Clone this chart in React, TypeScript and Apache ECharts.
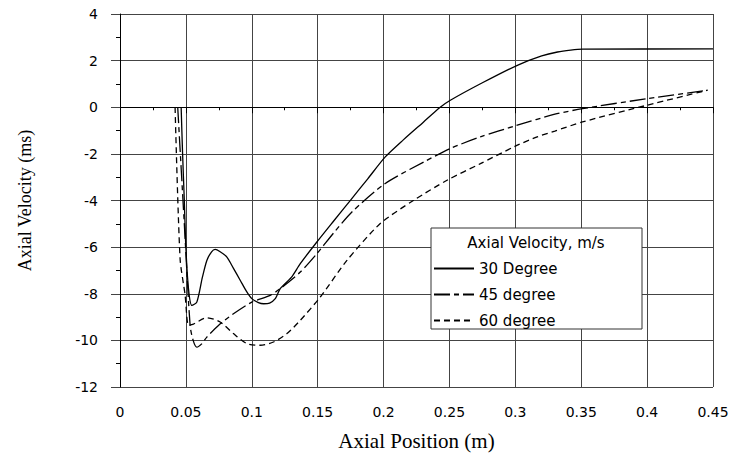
import React, { useEffect, useRef } from "react";
import * as echarts from "echarts";

const seriesNames = ["30 Degree", "45 degree", "60 degree"];
const legendTitle = "Axial Velocity, m/s";
const xAxisTitle = "Axial Position (m)";
const yAxisTitle = "Axial Velocity (ms)";

const x30 = [0.0464, 0.0475, 0.0488, 0.05, 0.052, 0.0545, 0.0583, 0.0625, 0.0659, 0.0695, 0.0722, 0.076, 0.081, 0.086, 0.0912, 0.096, 0.1, 0.105, 0.109, 0.1135, 0.118, 0.1216, 0.13, 0.1368, 0.1494, 0.162, 0.175, 0.188, 0.2013, 0.215, 0.23, 0.243, 0.2507, 0.275, 0.3015, 0.32, 0.332, 0.342, 0.351, 0.45];
const y30 = [0, -2, -4, -6.05, -7.8, -8.5, -8.36, -7.3, -6.57, -6.2, -6.1, -6.2, -6.42, -6.9, -7.42, -7.9, -8.21, -8.38, -8.43, -8.4, -8.2, -7.78, -7.3, -6.71, -5.78, -4.89, -3.98, -3.07, -2.13, -1.4, -0.65, 0, 0.3, 1.05, 1.8, 2.2, 2.37, 2.45, 2.49, 2.5];

const x45 = [0.0438, 0.0488, 0.0532, 0.0555, 0.0583, 0.062, 0.0659, 0.0747, 0.0861, 0.1, 0.114, 0.1216, 0.1368, 0.1494, 0.162, 0.176, 0.2013, 0.2305, 0.2507, 0.2735, 0.3015, 0.33, 0.351, 0.4002, 0.4458];
const y45 = [0, -5, -9.36, -10.0, -10.29, -10.15, -9.86, -9.36, -8.86, -8.36, -8.07, -7.78, -7.07, -6.28, -5.4, -4.49, -3.27, -2.35, -1.77, -1.27, -0.77, -0.3, -0.06, 0.37, 0.73];

const x60 = [0.0418, 0.0456, 0.0494, 0.052, 0.0557, 0.0659, 0.076, 0.0861, 0.0963, 0.1064, 0.1165, 0.1267, 0.1368, 0.152, 0.1722, 0.1975, 0.2229, 0.2482, 0.2735, 0.3, 0.3166, 0.33, 0.351, 0.4002, 0.4458];
const y60 = [0, -6.5, -8.05, -9.36, -9.3, -9.03, -9.21, -9.71, -10.14, -10.21, -10.07, -9.71, -9.14, -8.14, -6.57, -4.99, -3.99, -3.13, -2.42, -1.67, -1.27, -1.02, -0.63, 0.09, 0.73];

const zip = (xs: number[], ys: number[]) => xs.map((x, i) => [x, ys[i]]);

export default function App() {
  const ref = useRef<HTMLDivElement>(null);
  useEffect(() => {
    document.body.style.margin = "0";
    const chart = echarts.init(ref.current!, undefined, { renderer: "svg" });
    const tickFont = { fontFamily: "DejaVu Sans", fontSize: 14, color: "#000" };
    const lineCommon = {
      type: "line" as const,
      symbol: "none",
      smooth: 0.25,
      z: 5,
    };
    chart.setOption({
      animation: false,
      backgroundColor: "#fff",
      grid: { left: 120, right: 20, top: 14, bottom: 75 },
      xAxis: {
        type: "value",
        min: 0,
        max: 0.45,
        interval: 0.05,
        name: xAxisTitle,
        nameLocation: "middle",
        nameGap: 43,
        nameTextStyle: { fontFamily: "Liberation Serif", fontSize: 21, color: "#000" },
        axisLine: { show: true, lineStyle: { color: "#000", width: 1 } },
        axisTick: { show: true, length: 6, lineStyle: { color: "#000" } },
        minorTick: { show: true, splitNumber: 2, length: 3, lineStyle: { color: "#000" } },
        axisLabel: { ...tickFont, margin: 18 },
        splitLine: { show: true, lineStyle: { color: "#444", width: 1 } },
      },
      yAxis: {
        type: "value",
        min: -12,
        max: 4,
        interval: 2,
        name: yAxisTitle,
        nameLocation: "middle",
        nameGap: 86,
        nameTextStyle: { fontFamily: "Liberation Serif", fontSize: 18, color: "#000" },
        axisLine: { show: true, onZero: false, lineStyle: { color: "#000", width: 1 } },
        axisTick: { show: true, length: 9, lineStyle: { color: "#444" } },
        minorTick: { show: true, splitNumber: 2, length: 4, lineStyle: { color: "#000" } },
        axisLabel: { ...tickFont, margin: 22 },
        splitLine: { show: true, lineStyle: { color: "#444", width: 1 } },
      },
      legend: {
        orient: "vertical",
        left: 433,
        top: 261,
        padding: 0,
        itemWidth: 40,
        itemHeight: 14,
        itemGap: 11,
        itemStyle: { color: "rgba(0,0,0,0)", borderWidth: 0, opacity: 0 },
        textStyle: { fontFamily: "DejaVu Sans", fontSize: 15, color: "#000" },
        data: seriesNames,
        z: 10,
      },
      graphic: [
        {
          type: "rect",
          shape: { x: 431, y: 228, width: 211, height: 101 },
          style: { fill: "#fff", stroke: "#333", lineWidth: 1 },
          z: 3,
        },
        {
          type: "text",
          x: 536,
          y: 243,
          style: {
            text: legendTitle,
            fontFamily: "DejaVu Sans",
            fontSize: 15,
            fill: "#000",
            textAlign: "center",
            textVerticalAlign: "middle",
          },
          z: 4,
        },
      ],
      series: [
        {
          ...lineCommon,
          name: seriesNames[0],
          data: zip(x30, y30),
          lineStyle: { color: "#000", width: 1.3, type: "solid" },
          itemStyle: { color: "#000" },
        },
        {
          ...lineCommon,
          name: seriesNames[1],
          data: zip(x45, y45),
          lineStyle: { color: "#000", width: 1.3, type: [16, 4, 5, 4] },
          itemStyle: { color: "#000" },
        },
        {
          ...lineCommon,
          name: seriesNames[2],
          data: zip(x60, y60),
          lineStyle: { color: "#000", width: 1.3, type: [6, 4] },
          itemStyle: { color: "#000" },
        },
      ],
    });
    return () => chart.dispose();
  }, []);
  return <div ref={ref} style={{ width: 733, height: 462 }} />;
}
